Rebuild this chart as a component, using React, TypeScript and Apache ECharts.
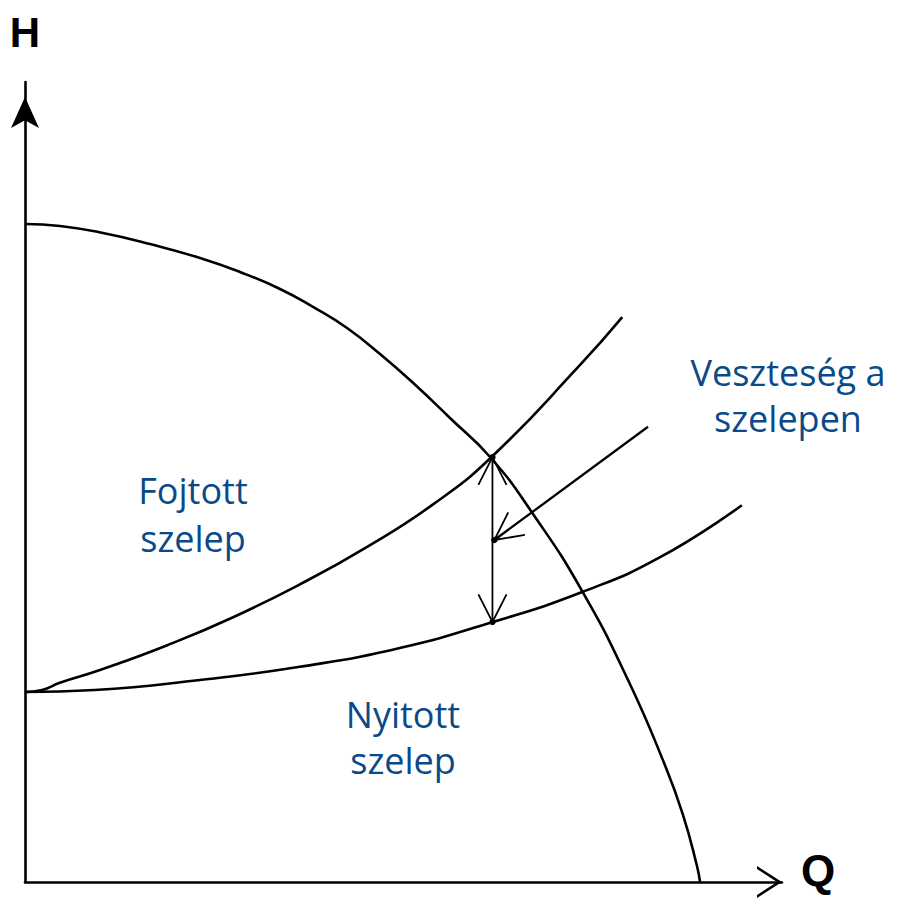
import React, { useEffect, useRef } from "react";
import * as echarts from "echarts";

// Pump characteristic (H-Q curve)
const pumpQ = [0, 4.62, 10.3, 16.51, 23.12, 28.4, 33.69, 38.04, 42.54, 46.9, 51.25, 56.14, 61.56, 67.11, 73.58, 79.66, 84.54, 86.92, 88.77, 89.17];
const pumpH = [82.25, 82.0, 81.13, 79.75, 78.0, 76.25, 74.13, 71.88, 69.25, 66.0, 62.4, 58.0, 53.0, 46.0, 36.4, 25.25, 14.6, 8.4, 2.0, 0];

// System curve with throttled valve
const throttledQ = [0, 2.25, 4.6, 9.9, 18.8, 27.5, 36.3, 45.2, 53.9, 61.6, 73.3, 78.9];
const throttledH = [23.75, 24.0, 24.9, 26.5, 29.6, 33.1, 37.2, 41.9, 47.2, 53.1, 64.6, 70.6];

// System curve with open valve
const openQ = [0, 9.2, 23.1, 36.3, 49.5, 61.8, 73.6, 83.9, 94.7];
const openH = [23.75, 24.0, 25.25, 26.9, 29.25, 32.5, 36.25, 40.6, 47.1];

// Annotation arrows: [q1, h1, q2, h2, headAtStart, headAtEnd, lineWidth]
const arrowLines = [
  [61.75, 53.1, 61.75, 32.5, 1, 1, 1.8],
  [82.3, 56.9, 62.0, 42.75, 0, 1, 2.3],
];

const axisNames = { h: "H", q: "Q" };
const textLabels = [
  { text: "Fojtott\nszelep", x: 193, y: 514, lh: 48 },
  { text: "Nyitott\nszelep", x: 403, y: 737, lh: 46 },
  { text: "Veszteség a\nszelepen", x: 788, y: 395, lh: 46 },
];

const zip = (a: number[], b: number[]) => a.map((v, i) => [v, b[i]]);

const chevron = "path://M0,25 L16,0 L32,25 L29,25 L16,5 L3,25 Z";

export default function App() {
  const ref = useRef<HTMLDivElement>(null);
  useEffect(() => {
    if (!ref.current) return;
    const chart = echarts.init(ref.current, undefined, { renderer: "svg" });
    const curveStyle = { color: "#000", width: 2.6 };
    const option: any = {
      animation: false,
      backgroundColor: "#fff",
      grid: { left: 25, right: 116, top: 82, bottom: 16, containLabel: false, outerBoundsMode: "none" },
      xAxis: {
        type: "value",
        min: 0,
        max: 100,
        name: axisNames.q,
        nameLocation: "end",
        nameGap: 19,
        nameTextStyle: {
          fontFamily: "Liberation Sans",
          fontWeight: "bold",
          fontSize: 44,
          color: "#000",
          verticalAlign: "bottom",
          lineHeight: 24,
        },
        axisLine: {
          show: true,
          lineStyle: { color: "#000", width: 2.6 },
          symbol: ["none", chevron],
          symbolSize: [32, 25],
          symbolOffset: [0, -12.5],
        },
        axisTick: { show: false },
        axisLabel: { show: false },
        splitLine: { show: false },
      },
      yAxis: {
        type: "value",
        min: 0,
        max: 100,
        name: axisNames.h,
        nameLocation: "end",
        nameGap: 29,
        nameTextStyle: { fontFamily: "Liberation Sans", fontWeight: "bold", fontSize: 42, color: "#000", align: "center" },
        axisLine: {
          show: true,
          lineStyle: { color: "#000", width: 2.6 },
          symbol: ["none", "arrow"],
          symbolSize: [21, 31],
          symbolOffset: [0, -15],
        },
        axisTick: { show: false },
        axisLabel: { show: false },
        splitLine: { show: false },
      },
      series: [
        { type: "line", data: zip(pumpQ, pumpH), showSymbol: false, smooth: 0.5, lineStyle: curveStyle, silent: true },
        { type: "line", data: zip(throttledQ, throttledH), showSymbol: false, smooth: 0.5, lineStyle: curveStyle, silent: true },
        { type: "line", data: zip(openQ, openH), showSymbol: false, smooth: 0.5, lineStyle: curveStyle, silent: true },
        {
          type: "custom",
          silent: true,
          encode: { x: [0, 2], y: [1, 3] },
          data: arrowLines,
          renderItem: (_params: any, api: any) => {
            const p1 = api.coord([api.value(0), api.value(1)]);
            const p2 = api.coord([api.value(2), api.value(3)]);
            const lw = api.value(6);
            const children: any[] = [
              { type: "line", shape: { x1: p1[0], y1: p1[1], x2: p2[0], y2: p2[1] }, style: { stroke: "#000", lineWidth: lw } },
            ];
            const barb = (tip: number[], from: number[]) => {
              const ang = Math.atan2(from[1] - tip[1], from[0] - tip[0]);
              const L = 31;
              const a = (27 * Math.PI) / 180;
              children.push({
                type: "polyline",
                shape: {
                  points: [
                    [tip[0] + L * Math.cos(ang + a), tip[1] + L * Math.sin(ang + a)],
                    tip,
                    [tip[0] + L * Math.cos(ang - a), tip[1] + L * Math.sin(ang - a)],
                  ],
                },
                style: { stroke: "#000", fill: "none", lineWidth: 1.8 },
              });
              children.push({ type: "circle", shape: { cx: tip[0], cy: tip[1], r: 3.2 }, style: { fill: "#000" } });
            };
            if (api.value(4)) barb(p1, p2);
            if (api.value(5)) barb(p2, p1);
            return { type: "group", children };
          },
        },
      ],
      graphic: textLabels.map((l) => ({
        type: "text",
        x: l.x,
        y: l.y,
        silent: true,
        style: {
          text: l.text,
          fill: "#0a4a88",
          fontFamily: "Open Sans",
          fontSize: 36,
          lineHeight: l.lh,
          textAlign: "center",
          textVerticalAlign: "middle",
        },
      })),
    };
    chart.setOption(option);
    return () => chart.dispose();
  }, []);
  return <div ref={ref} style={{ width: 898, height: 898, position: "absolute", left: 0, top: 0 }} />;
}
